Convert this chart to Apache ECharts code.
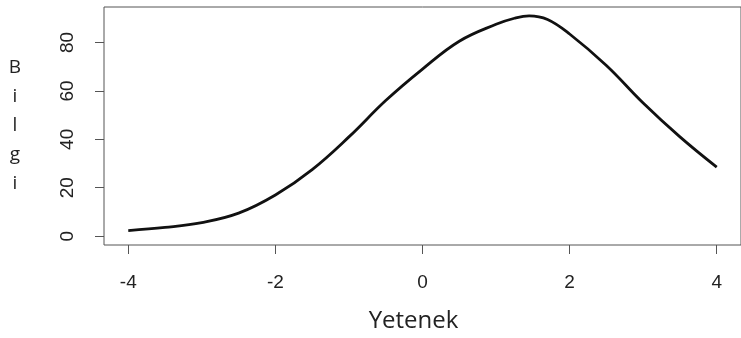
<!DOCTYPE html>
<html>
<head>
<meta charset="utf-8">
<script src="https://cdn.jsdelivr.net/npm/echarts@6/dist/echarts.min.js"></script>
<style>html,body{margin:0;padding:0;background:#fff;}#c{width:741px;height:338px;}</style>
</head>
<body>
<div id="c"></div>
<script>
var thetaValues = [-4, -3.5, -3, -2.5, -2, -1.5, -1, -0.5, 0, 0.5, 1, 1.25, 1.45, 1.7, 2, 2.5, 3, 3.5, 4];
var infoValues  = [2.3, 3.6, 5.6, 9.5, 17, 27.5, 41, 56, 69, 80.5, 87.5, 90, 91, 89.5, 83.5, 70.5, 55, 41, 28.5];
var xTicks = [-4, -2, 0, 2, 4];
var yTicks = [0, 20, 40, 60, 80];
var xTitle = 'Yetenek';
var yTitle = 'Bilgi';

var chart = echarts.init(document.getElementById('c'), null, {renderer: 'canvas'});
var pts = thetaValues.map(function (x, i) { return [x, infoValues[i]]; });

chart.setOption({
  animation: false,
  backgroundColor: '#fff',
  grid: {
    left: 104, top: 7, width: 645, height: 239,
    show: true, borderColor: '#555', borderWidth: 1, backgroundColor: 'transparent'
  },
  xAxis: {
    type: 'value', min: -4.33, max: 4.33,
    axisLine: {show: false, onZero: false},
    splitLine: {show: false},
    axisTick: {show: true, customValues: xTicks, length: 9, inside: false, lineStyle: {color: '#555', width: 1}},
    axisLabel: {customValues: xTicks, margin: 28, color: '#222', fontSize: 19, fontFamily: 'Liberation Sans, Arial, sans-serif'},
    name: xTitle, nameLocation: 'middle', nameGap: 64,
    nameTextStyle: {fontSize: 24, color: '#222', fontFamily: 'Open Sans, sans-serif', padding: [0, 18, 0, 0]}
  },
  yAxis: {
    type: 'value', min: -3.65, max: 94.65,
    axisLine: {show: false, onZero: false},
    splitLine: {show: false},
    axisTick: {show: true, customValues: yTicks, length: 9, inside: false, lineStyle: {color: '#555', width: 1}},
    axisLabel: {customValues: yTicks, rotate: 90, margin: 27, color: '#222', fontSize: 19, fontFamily: 'Liberation Sans, Arial, sans-serif'},
    name: yTitle.split('').join('\n'), nameLocation: 'middle', nameRotate: 0, nameGap: 89,
    nameTextStyle: {fontSize: 19, color: '#222', fontFamily: 'Open Sans, sans-serif', lineHeight: 29, align: 'center', verticalAlign: 'middle'}
  },
  series: [{
    type: 'line', data: pts, smooth: 0.4, symbol: 'none',
    lineStyle: {color: '#111', width: 2.8}
  }]
});
</script>
</body>
</html>
